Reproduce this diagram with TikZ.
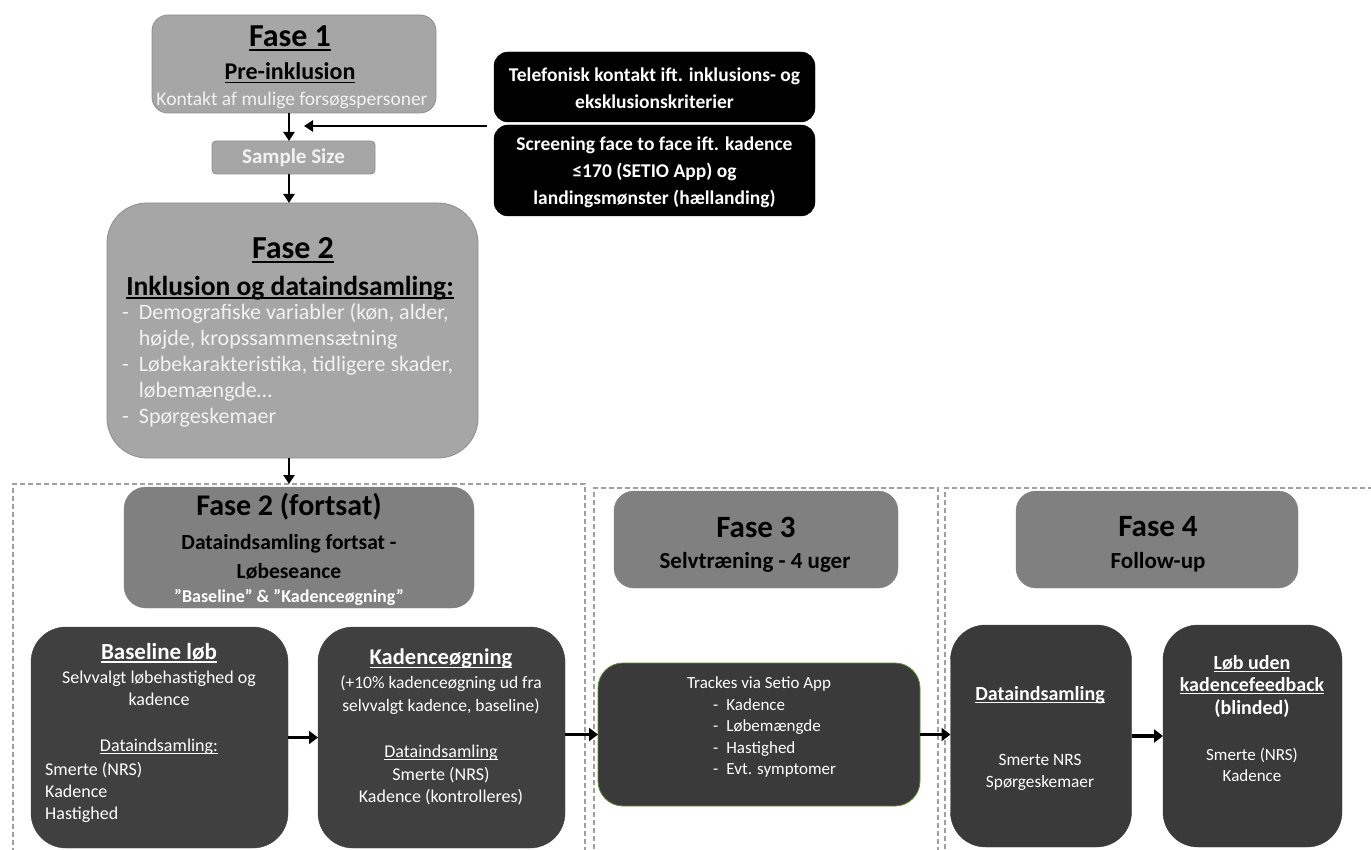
\documentclass[tikz,border=0pt]{standalone}
\usepackage{fontspec}
\setmainfont{Carlito}
\usetikzlibrary{arrows.meta}
\definecolor{lgray}{HTML}{A6A6A6}
\definecolor{lborder}{HTML}{8E8E8E}
\definecolor{mgray}{HTML}{808080}
\definecolor{dgray}{HTML}{404040}
\definecolor{dgraytwo}{HTML}{3A3A3A}
\definecolor{ltext}{HTML}{F2F2F2}
\definecolor{dashc}{HTML}{A0A0A0}
\definecolor{grn}{HTML}{5E8C31}
\newcommand\myul[1]{\leavevmode\setbox0\hbox{#1}\rlap{\rule[-0.14em]{\wd0}{0.065em}}\copy0}
\newcommand\fz[2]{\fontsize{#1}{#2}\selectfont}
\begin{document}
\begin{tikzpicture}[x=1pt,y=-1pt,
  lbox/.style={draw=lborder, fill=lgray, line width=0.8pt, inner sep=0pt, outer sep=0pt},
  bbox/.style={draw=black, fill=black, rounded corners=14pt, inner sep=0pt, outer sep=0pt},
  mbox/.style={draw=mgray, fill=mgray, inner sep=0pt, outer sep=0pt},
  dbox/.style={draw=dgray, fill=dgray, rounded corners=35pt, inner sep=0pt, outer sep=0pt},
  dashbox/.style={draw=dashc, dashed, dash pattern=on 5pt off 3pt, line width=1.6pt, inner sep=0pt, outer sep=0pt},
  txt/.style={inner sep=0pt, align=center, text=ltext},
  arr/.style={line width=2.8pt, -{Triangle[length=9pt,width=11pt]}},
  barr/.style={line width=3.5pt, -{Triangle[length=9pt,width=13pt]}}
]
\useasboundingbox (0,0) rectangle (1371,850);
\clip (0,0) rectangle (1371,850);

% dashed phase frames
\node[dashbox, anchor=north west, minimum width=572, minimum height=420] (d1) at (13,484) {};
\node[dashbox, anchor=north west, minimum width=344, minimum height=420] (d2) at (594,488) {};
\node[dashbox, anchor=north west, minimum width=440, minimum height=420] (d3) at (945,488) {};

% Fase 1
\node[lbox, rounded corners=16pt, minimum width=284, minimum height=98] (f1) at (294,64) {};
\node[txt, text=black, font=\fz{32}{36}\bfseries] (f1t) at (290,38) {\myul{Fase 1}};
\node[txt, text=black, font=\fz{24}{28}\bfseries] (f1s) at (290,73) {\myul{Pre-inklusion}};
\node[txt, font=\fz{19.5}{24}] (f1d) at (292,100) {Kontakt af mulige forsøgspersoner};

% Sample size
\node[lbox, rounded corners=4pt, minimum width=163, minimum height=33] (ss) at (293.5,157.5) {};
\node[txt, font=\fz{21}{24}\bfseries] (sst) at (293.5,157.5) {Sample Size};

% Black screening boxes
\node[bbox, minimum width=321, minimum height=70] (bk1) at (654.5,87) {};
\node[txt, text=white, font=\fz{19.5}{27}\bfseries] (bk1t) at (654.5,88.5) {Telefonisk kontakt ift. inklusions- og\\eksklusionskriterier};
\node[bbox, minimum width=321, minimum height=91] (bk2) at (654.5,170.5) {};
\node[txt, text=white, font=\fz{19.5}{27}\bfseries] (bk2t) at (654.5,172) {Screening face to face ift. kadence\\≤170 (SETIO App) og\\landingsmønster (hællanding)};

% Fase 2
\node[lbox, rounded corners=40pt, minimum width=371, minimum height=255] (f2) at (292.5,330.5) {};
\node[txt, text=black, font=\fz{32}{36}\bfseries] (f2t) at (293,250) {\myul{Fase 2}};
\node[txt, text=black, font=\fz{27.5}{30}\bfseries] (f2s) at (290,288) {\myul{Inklusion og dataindsamling:}};
\node[txt, anchor=west, font=\fz{22}{26}] (f2l) at (122,366) {\begin{tabular}{@{}l@{\hspace{10pt}}l@{}}
- & Demografiske variabler (køn, alder,\\
  & højde, kropssammensætning\\
- & Løbekarakteristika, tidligere skader,\\
  & løbemængde\dots\\
- & Spørgeskemaer
\end{tabular}};

% Fase 2 fortsat
\node[mbox, rounded corners=22pt, minimum width=350, minimum height=121] (f2b) at (299,547.5) {};
\node[txt, text=black, font=\fz{30}{34}\bfseries] (f2bt) at (289,507) {Fase 2 (fortsat)};
\node[txt, text=black, font=\fz{21.5}{29}\bfseries] (f2bs) at (289,557) {Dataindsamling fortsat -\\Løbeseance};
\node[txt, text=white, font=\fz{18}{20}\bfseries] (f2bq) at (289,597) {”Baseline” \& ”Kadenceøgning”};

% Fase 3 and 4 headers
\node[mbox, rounded corners=20pt, minimum width=284, minimum height=97] (f3) at (756,539.5) {};
\node[txt, text=black, font=\fz{31}{34}\bfseries] (f3t) at (756,527) {Fase 3};
\node[txt, text=black, font=\fz{23}{26}\bfseries] (f3s) at (755,562) {Selvtræning - 4 uger};
\node[mbox, rounded corners=20pt, minimum width=282, minimum height=97] (f4) at (1157,539.5) {};
\node[txt, text=black, font=\fz{31}{34}\bfseries] (f4t) at (1158,527) {Fase 4};
\node[txt, text=black, font=\fz{23}{26}\bfseries] (f4s) at (1158,562) {Follow-up};

% Baseline loeb
\node[dbox, minimum width=257, minimum height=221] (base) at (159.5,737.5) {};
\node[txt, text=white, font=\fz{23}{26}\bfseries] (baset) at (159,653) {\myul{Baseline løb}};
\node[txt, text=white, font=\fz{18}{22}] (based) at (159,688) {Selvvalgt løbehastighed og\\kadence};
\node[txt, text=white, font=\fz{18}{22}] (baseu) at (159,747) {\myul{Dataindsamling:}};
\node[txt, text=white, font=\fz{18}{22}, anchor=west, align=left] (basel) at (45,792) {Smerte (NRS)\\Kadence\\Hastighed};

% Kadenceoegning
\node[dbox, minimum width=247, minimum height=221] (kad) at (441.5,737.5) {};
\node[txt, text=white, font=\fz{22.5}{26}\bfseries] (kadt) at (441,659) {\myul{Kadenceøgning}};
\node[txt, text=white, font=\fz{17.5}{23}] (kadd) at (441,695.5) {(+10\% kadenceøgning ud fra\\selvvalgt kadence, baseline)};
\node[txt, text=white, font=\fz{18}{22}] (kadu) at (441,753) {\myul{Dataindsamling}};
\node[txt, text=white, font=\fz{18}{22}] (kadl) at (441,786) {Smerte (NRS)\\Kadence (kontrolleres)};

% Tracks
\node[draw=grn, fill=dgraytwo, line width=0.8pt, rounded corners=25pt, minimum width=322, minimum height=143, inner sep=0pt, outer sep=0pt] (trk) at (759,734.5) {};
\node[txt, text=white, font=\fz{17}{20}] (trkt) at (759,684) {Trackes via Setio App};
\node[txt, text=white, font=\fz{17}{21.5}, anchor=west] (trkl) at (713,738) {\begin{tabular}{@{}l@{\hspace{8pt}}l@{}}
- & Kadence\\
- & Løbemængde\\
- & Hastighed\\
- & Evt. symptomer
\end{tabular}};

% Fase 4 boxes
\node[dbox, fill=dgraytwo, draw=dgraytwo, minimum width=181, minimum height=222] (dat) at (1041,736) {};
\node[txt, text=white, font=\fz{20}{24}\bfseries] (datt) at (1040,695) {\myul{Dataindsamling}};
\node[txt, text=white, font=\fz{17.3}{21.5}] (datl) at (1040,772.5) {Smerte NRS\\Spørgeskemaer};
\node[dbox, fill=dgraytwo, draw=dgraytwo, minimum width=179, minimum height=222] (lob) at (1252.5,736) {};
\node[txt, text=white, font=\fz{20}{22.5}\bfseries] (lobt) at (1252,686) {\myul{Løb uden}\\\myul{kadencefeedback}\\(blinded)};
\node[txt, text=white, font=\fz{17}{20.5}] (lobl) at (1252,765) {Smerte (NRS)\\Kadence};

% connectors
\coordinate (ht) at (304,126);
\draw[arr] (f1.south -| 289,0) -- (ss.north -| 289,0);
\draw[arr] (ss.south -| 289,0) -- (f2.north -| 289,0);
\draw[arr] ([xshift=-7pt,yshift=-4pt]bk1.south west) -- (ht);
\draw[arr] (f2.south -| 289,0) -- (d1.north -| 289,0);
\draw[barr] (base.east) -- (kad.west);
\draw[barr] (kad.east |- trk.west) -- (trk.west);
\draw[barr] (trk.east) -- (trk.east -| dat.west);
\draw[barr] (dat.east) -- (lob.west);
\end{tikzpicture}
\end{document}
